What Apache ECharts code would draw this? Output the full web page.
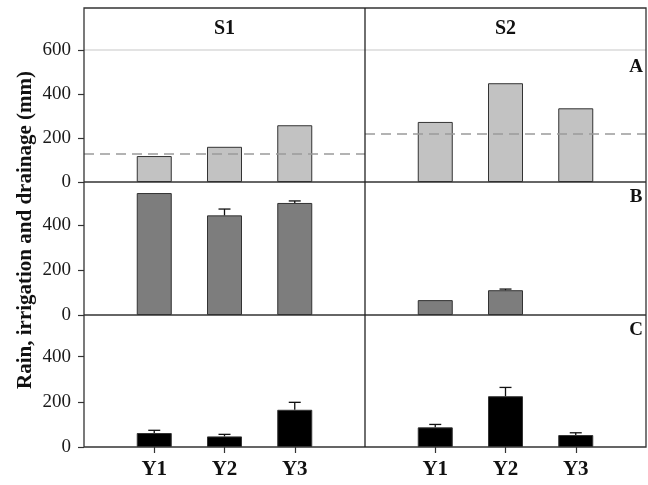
<!DOCTYPE html>
<html>
<head>
<meta charset="utf-8">
<script src="https://cdn.jsdelivr.net/npm/echarts@6/dist/echarts.min.js"></script>
<style>html,body{margin:0;padding:0;background:#fff;}#c{width:648px;height:485px;}</style>
</head>
<body>
<div id="c"></div>
<script>
// ---- data ----
const categories = ['Y1', 'Y2', 'Y3'];
const sites = ['S1', 'S2'];
const panels = ['A', 'B', 'C'];
const rainS1 = [118, 160, 258];
const rainS2 = [273, 449, 335];
const meanRainS1 = 130;
const meanRainS2 = 221;
const irrS1 = [541, 442, 497];
const irrErrS1 = [0, 28, 9];
const irrS2 = [66, 110, null];
const irrErrS2 = [0, 5, 0];
const drainS1 = [62, 47, 165];
const drainErrS1 = [12, 9, 33];
const drainS2 = [87, 225, 53];
const drainErrS2 = [13, 39, 10];

// ---- layout ----
const L = 84, M = 365, R = 646, T = 8, HDR = 50, YA = 182, YB = 315, YC = 447;
const colW = M - L;
const FONT = '"Liberation Serif", "Times New Roman", serif';

const rows = [
  {top: HDR, h: YA - HDR, max: 600, color: '#c2c2c2'},
  {top: YA, h: YB - YA, max: 590, color: '#7d7d7d'},
  {top: YB, h: YC - YB, max: 585, color: '#000000'}
];
const rowData = [
  [{v: rainS1, e: null, mean: meanRainS1}, {v: rainS2, e: null, mean: meanRainS2}],
  [{v: irrS1, e: irrErrS1}, {v: irrS2, e: irrErrS2}],
  [{v: drainS1, e: drainErrS1}, {v: drainS2, e: drainErrS2}]
];

const grid = [], xAxis = [], yAxis = [], series = [];
rows.forEach((row, ri) => {
  [L, M].forEach((left, ci) => {
    const gi = ri * 2 + ci;
    grid.push({left: left, top: row.top, width: colW, height: row.h, containLabel: false});
    const isBottom = ri === 2;
    xAxis.push({
      type: 'value', gridIndex: gi, min: 0, max: categories.length + 1, interval: 1,
      axisLine: {show: false},
      splitLine: {show: false},
      axisTick: {show: isBottom, length: 6, inside: false, customValues: [1, 2, 3],
        lineStyle: {color: '#333', width: 1.2}},
      axisLabel: {show: isBottom, customValues: [1, 2, 3], margin: 12,
        formatter: v => (v >= 1 && v <= categories.length && v === Math.round(v)) ? categories[v - 1] : '',
        fontFamily: FONT, fontWeight: 'bold', fontSize: 21, color: '#111'}
    });
    const isLeft = ci === 0;
    yAxis.push({
      type: 'value', gridIndex: gi, min: 0, max: row.max, interval: 200,
      axisLine: {show: false},
      splitLine: {show: false},
      axisTick: {show: isLeft, length: 6, inside: false, lineStyle: {color: '#333', width: 1.2}},
      axisLabel: {show: isLeft, margin: 13, showMaxLabel: ri === 0 ? true : false,
        fontFamily: FONT, fontSize: 19, color: '#1a1a1a'}
    });
    const d = rowData[ri][ci];
    const barSeries = {
      type: 'bar', xAxisIndex: gi, yAxisIndex: gi, barWidth: 35,
      data: d.v.map((val, i) => [i + 1, val == null ? '-' : val]),
      itemStyle: {color: row.color, borderColor: '#333', borderWidth: 1},
      z: 2
    };
    if (d.mean != null) {
      barSeries.markLine = {
        silent: true, symbol: 'none', label: {show: false},
        lineStyle: {type: [10, 6], color: '#9a9a9a', width: 1.5},
        data: [{yAxis: d.mean}]
      };
    }
    series.push(barSeries);
    if (d.e) {
      series.push({
        type: 'custom', xAxisIndex: gi, yAxisIndex: gi, z: 5,
        data: d.v.map((val, i) => [i + 1, val == null ? 0 : val, d.e[i]]),
        renderItem: function (params, api) {
          const x = api.value(0), v = api.value(1), e = api.value(2);
          if (!e) return null;
          const p0 = api.coord([x, v]);
          const p1 = api.coord([x, v + e]);
          const st = {stroke: '#111', lineWidth: 1.3};
          return {type: 'group', children: [
            {type: 'line', shape: {x1: p0[0], y1: p0[1], x2: p1[0], y2: p1[1]}, style: st},
            {type: 'line', shape: {x1: p1[0] - 6, y1: p1[1], x2: p1[0] + 6, y2: p1[1]}, style: st}
          ]};
        }
      });
    }
  });
});

const frame = [
  {type: 'line', shape: {x1: L, y1: HDR, x2: R, y2: HDR}, style: {stroke: '#c8c8c8', lineWidth: 1.2}},
  {type: 'rect', shape: {x: L, y: T, width: R - L, height: YC - T}, style: {fill: null, stroke: '#333', lineWidth: 1.3}},
  {type: 'line', shape: {x1: L, y1: YA, x2: R, y2: YA}, style: {stroke: '#333', lineWidth: 1.3}},
  {type: 'line', shape: {x1: L, y1: YB, x2: R, y2: YB}, style: {stroke: '#333', lineWidth: 1.3}},
  {type: 'line', shape: {x1: M, y1: T, x2: M, y2: YC}, style: {stroke: '#222', lineWidth: 1.3}}
].map(g => Object.assign(g, {z: 100, silent: true}));

const lbl = (text, x, y, size) => ({type: 'text', x: x, y: y, z: 101,
  style: {text: text, font: 'bold ' + size + 'px ' + FONT, fill: '#111', textAlign: 'center', textVerticalAlign: 'middle'}});
const texts = [
  lbl(sites[0], (L + M) / 2, (T + HDR) / 2, 20),
  lbl(sites[1], (M + R) / 2, (T + HDR) / 2, 20),
  lbl(panels[0], 636, 67, 19),
  lbl(panels[1], 636, 197, 19),
  lbl(panels[2], 636, 330, 19),
  Object.assign(lbl('Rain, irrigation and drainage (mm)', 26, 230, 21), {rotation: Math.PI / 2})
];

const chart = echarts.init(document.getElementById('c'), null, {renderer: 'canvas'});
chart.setOption({
  animation: false,
  backgroundColor: '#fff',
  grid: grid, xAxis: xAxis, yAxis: yAxis, series: series,
  graphic: frame.concat(texts)
});
</script>
</body>
</html>
